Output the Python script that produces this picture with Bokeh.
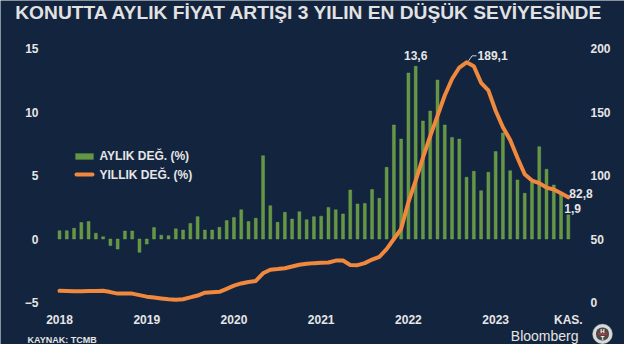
from bokeh.plotting import figure
from bokeh.models import Range1d, LinearAxis, FixedTicker, Label, BoxAnnotation
from bokeh.embed import file_html
from bokeh.resources import INLINE

# ---------------- data ----------------
months = list(range(71))  # Jan 2018 .. Nov 2023
monthly = [
    0.65, 0.65, 0.84, 1.30, 1.37, 0.45, 0.18, -0.52, -0.79, 0.63, 0.63, -1.05,
    -0.40, 0.90, 0.30, 0.26, 0.80, 0.70, 1.23, 1.76, 0.70, 0.70, 0.92, 1.45,
    1.70, 2.30, 1.37, 1.63, 6.56, 2.62, 1.31, 2.10, 1.57, 2.15, 1.52, 1.76,
    1.80, 2.49, 2.30, 1.97, 3.86, 2.76, 2.80, 3.90, 3.20, 5.64, 8.98, 7.87,
    13.07, 13.60, 9.29, 10.08, 12.52, 8.98, 8.00, 7.87, 4.86, 5.33, 3.80, 5.25,
    6.88, 8.35, 5.38, 4.65, 3.60, 4.46, 7.27, 5.49, 4.25, 3.54, 1.90,
]
annual = [
    9.2, 9.0, 8.9, 8.9, 9.0, 9.1, 9.2, 8.2, 7.0, 7.0, 7.0, 5.8,
    4.6, 3.9, 3.2, 2.5, 2.1, 2.6, 4.0, 5.5, 7.7, 8.0, 8.4, 10.8,
    13.3, 15.0, 16.2, 17.0, 23.0, 25.8, 26.3, 27.0, 28.3, 29.7, 30.5, 31.0,
    31.3, 31.5, 33.0, 33.0, 29.6, 29.4, 31.0, 33.8, 36.0, 42.0, 50.0, 58.0,
    79.0, 96.0, 114.0, 131.0, 147.0, 163.0, 176.0, 185.0, 189.1, 186.0, 173.0, 167.0,
    151.0, 138.0, 128.0, 114.0, 101.0, 96.0, 94.0, 90.5, 89.0, 86.0, 82.8,
]
tick_pos = [0, 12, 24, 36, 48, 60, 70]
tick_labels = ["2018", "2019", "2020", "2021", "2022", "2023", "KAS."]
left_ticks = [-5, 0, 5, 10, 15]
right_ticks = [0, 50, 100, 150, 200]

title_text = "KONUTTA AYLIK FİYAT ARTIŞI 3 YILIN EN DÜŞÜK SEVİYESİNDE"
legend_bar = "AYLIK DEĞ. (%)"
legend_line = "YILLIK DEĞ. (%)"
source_text = "KAYNAK: TCMB"

# ---------------- style / layout ----------------
BG = "#13243f"
GREEN = "#659743"
ORANGE = "#f0883e"
TXT = "#e6e6e6"
FONT = "Liberation Sans"
W, H = 624, 344
# virtual plot area (figure pixels) where the axes sit
FL, FR, FT, FB = 50, 578, 48, 302
X0, X1 = -1.24, 71.4
YL0, YL1 = -5, 15
YR0, YR1 = 0, 200


def dx(fx):
    return X0 + (fx - FL) / (FR - FL) * (X1 - X0)


def dy(fy):
    return YL1 - (fy - FT) / (FB - FT) * (YL1 - YL0)


def dyr(fy):
    return YR1 - (fy - FT) / (FB - FT) * (YR1 - YR0)


PX_X = (FR - FL) / (X1 - X0)
PX_YL = (FB - FT) / (YL1 - YL0)
PX_YR = (FB - FT) / (YR1 - YR0)

p = figure(width=W, height=H, output_backend="svg", toolbar_location=None,
           x_range=Range1d(dx(0), dx(W)), y_range=Range1d(dy(H), dy(0)),
           min_border_left=0, min_border_right=0, min_border_top=0, min_border_bottom=0)
p.background_fill_color = BG
p.border_fill_color = BG
p.outline_line_color = None
p.grid.visible = False
p.extra_y_ranges = {"right": Range1d(dyr(H), dyr(0))}
p.add_layout(LinearAxis(y_range_name="right", fixed_location=dx(FR)), "right")
p.yaxis[0].fixed_location = dx(FL)
p.xaxis[0].fixed_location = YL0


def style_axis(ax, standoff):
    ax.axis_line_color = None
    ax.major_tick_line_color = None
    ax.minor_tick_line_color = None
    ax.major_label_text_font = FONT
    ax.major_label_text_font_style = "bold"
    ax.major_label_text_font_size = "12px"
    ax.major_label_text_color = TXT
    ax.major_label_standoff = standoff


p.yaxis[0].ticker = FixedTicker(ticks=left_ticks)
p.yaxis[1].ticker = FixedTicker(ticks=right_ticks)
style_axis(p.yaxis[0], 6)
style_axis(p.yaxis[1], 6)
p.xaxis.ticker = FixedTicker(ticks=tick_pos)
p.xaxis.major_label_overrides = {t: l for t, l in zip(tick_pos, tick_labels)}
style_axis(p.xaxis[0], 4)

# bars and line
p.vbar(x=months, top=monthly, bottom=0, width=0.4, fill_color=GREEN,
       line_color="#7fb256", line_width=0.4)
p.line(x=months, y=annual, y_range_name="right", line_color=ORANGE,
       line_width=4, line_join="round", line_cap="round")

# annotations for peak values
ib = max(range(len(monthly)), key=lambda i: monthly[i])
p.add_layout(Label(x=ib, y=monthly[ib] + 11 / PX_YL, text=f"{monthly[ib]:.1f}".replace(".", ","),
                   text_align="center", text_baseline="middle", text_font=FONT,
                   text_font_style="bold", text_font_size="12px", text_color=TXT))
ia = max(range(len(annual)), key=lambda i: annual[i])
pk = annual[ia]
p.line(x=[ia + 2 / PX_X, ia + 5.5 / PX_X, ia + 10 / PX_X],
       y=[pk + 1.5 / PX_YR, pk + 6.5 / PX_YR, pk + 6.5 / PX_YR],
       y_range_name="right", line_color="#cfcfcf", line_width=1)
p.add_layout(Label(x=ia + 11 / PX_X, y=pk + 6.5 / PX_YR, y_range_name="right",
                   text=f"{pk:.1f}".replace(".", ","), text_align="left", text_baseline="middle",
                   text_font=FONT, text_font_style="bold", text_font_size="12px", text_color=TXT))
last = len(months) - 1
p.add_layout(Label(x=last + 1 / PX_X, y=annual[last] + 3.5 / PX_YR, y_range_name="right",
                   text=f"{annual[last]:.1f}".replace(".", ","), text_align="left",
                   text_baseline="middle", text_font=FONT, text_font_style="bold",
                   text_font_size="12px", text_color=TXT))
p.add_layout(Label(x=last - 4 / PX_X, y=monthly[last] + 6.5 / PX_YL,
                   text=f"{monthly[last]:.1f}".replace(".", ","), text_align="left",
                   text_baseline="middle", text_font=FONT, text_font_style="bold",
                   text_font_size="12px", text_color=TXT))

# title
p.add_layout(Label(x=dx(309), y=dy(12), text=title_text, text_align="center",
                   text_baseline="middle", text_font=FONT, text_font_style="bold",
                   text_font_size="19.2px", text_color="#e2e2e2"))

# legend
p.add_layout(BoxAnnotation(left=dx(75), right=dx(93), top=dy(153), bottom=dy(159),
                           fill_color=GREEN, fill_alpha=1, line_color="#86b85c", line_width=0.5))
p.add_layout(BoxAnnotation(left=dx(74), right=dx(94), top=dy(172), bottom=dy(176),
                           fill_color=ORANGE, fill_alpha=1, line_color=None, border_radius=2))
p.add_layout(Label(x=dx(99), y=dy(155.5), text=legend_bar, text_baseline="middle",
                   text_font=FONT, text_font_style="bold", text_font_size="12px", text_color=TXT))
p.add_layout(Label(x=dx(99), y=dy(174), text=legend_line, text_baseline="middle",
                   text_font=FONT, text_font_style="bold", text_font_size="12px", text_color=TXT))

# footer
p.add_layout(Label(x=dx(27), y=dy(339), text=source_text, text_baseline="middle",
                   text_font=FONT, text_font_style="bold", text_font_size="9px", text_color=TXT))
p.add_layout(Label(x=dx(578), y=dy(335.5), text="Bloomberg", text_align="right",
                   text_baseline="middle", text_font=FONT, text_font_size="14px",
                   text_color="#e4e4e4"))
# logo
p.add_layout(BoxAnnotation(left=dx(592), right=dx(612), top=dy(323.5), bottom=dy(343.5),
                           fill_color="#d9d9d9", fill_alpha=1, line_color="#9a9a9a",
                           line_width=1, border_radius=10))
p.add_layout(BoxAnnotation(left=dx(595.5), right=dx(608.5), top=dy(327), bottom=dy(340),
                           fill_color="#4a4a4a", fill_alpha=1, line_color=None, border_radius=6))
p.add_layout(BoxAnnotation(left=dx(597.5), right=dx(606.5), top=dy(332.8), bottom=dy(334.2),
                           fill_color="#d8322c", fill_alpha=1, line_color=None))
p.add_layout(Label(x=dx(602), y=dy(330), text="H", text_align="center", text_baseline="middle",
                   text_font=FONT, text_font_style="bold", text_font_size="6px", text_color="#ffffff"))
p.add_layout(Label(x=dx(602), y=dy(337.2), text="T", text_align="center", text_baseline="middle",
                   text_font=FONT, text_font_style="bold", text_font_size="6px", text_color="#ffffff"))

open("out.html", "w").write(file_html(p, INLINE))
